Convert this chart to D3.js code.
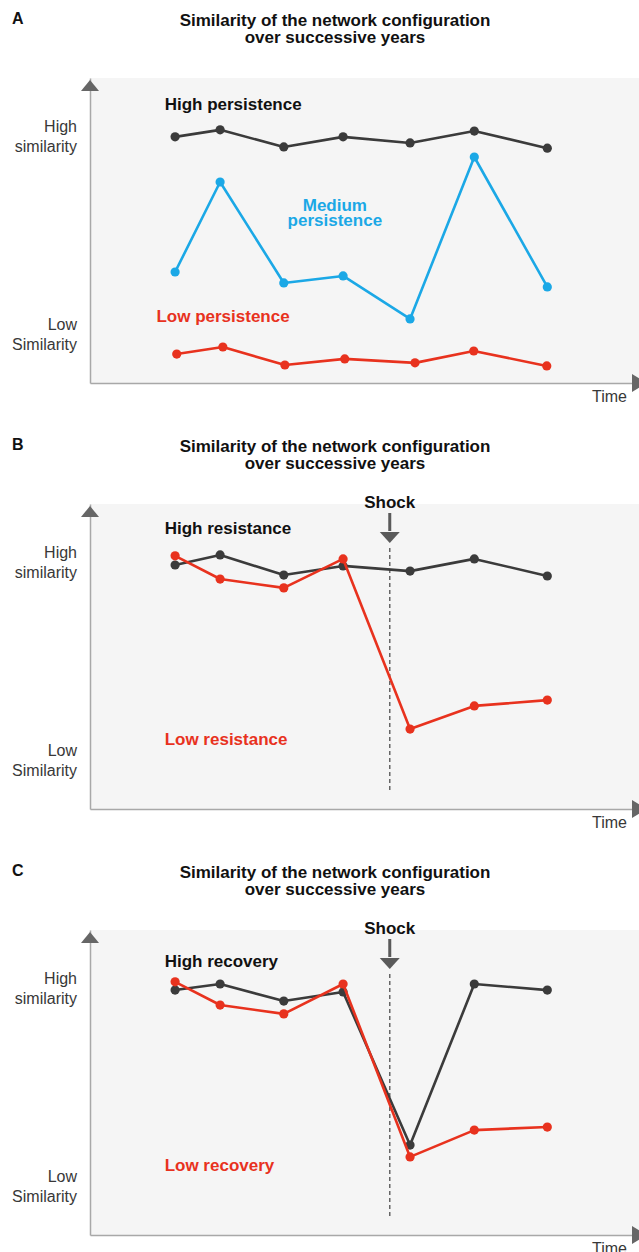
<!DOCTYPE html>
<html><head><meta charset="utf-8">
<script src="https://cdn.jsdelivr.net/npm/d3@7"></script>
<style>
html,body{margin:0;padding:0;background:#fff;}
svg{display:block;font-family:"Liberation Sans",Arial,Helvetica,sans-serif;}
</style></head>
<body><svg id="chart" width="639" height="1252"></svg>
<script>
// ---- data (arbitrary time units 0..10, similarity 0..10) ----
const panelLetters = ["A", "B", "C"];
const titleLines = ["Similarity of the network configuration", "over successive years"];
const yHighLabel = ["High", "similarity"];
const yLowLabel = ["Low", "Similarity"];
const xAxisLabel = "Time";
const times = [1.55, 2.37, 3.53, 4.61, 5.83, 7.0, 8.33];
const timesLowPersistence = [1.58, 2.42, 3.55, 4.64, 5.92, 6.99, 8.32];
const highPersistence = [8.07, 8.30, 7.74, 8.07, 7.87, 8.26, 7.70];
const mediumPersistence = [3.64, 6.59, 3.28, 3.51, 2.10, 7.41, 3.15];
const lowPersistence = [0.95, 1.18, 0.59, 0.79, 0.66, 1.05, 0.56];
const highResistance = [8.00, 8.33, 7.67, 7.97, 7.80, 8.20, 7.64];
const lowResistance = [8.30, 7.54, 7.25, 8.20, 2.62, 3.38, 3.57];
const highRecovery = [8.03, 8.23, 7.67, 7.97, 2.95, 8.23, 8.03];
const lowRecovery = [8.30, 7.54, 7.25, 8.23, 2.56, 3.44, 3.54];
const shockTime = 5.46;
const shockLabel = "Shock";

const C_DARK = "#3b3b3b", C_BLUE = "#1ba8e6", C_RED = "#e8321e";

const panels = [
  { letter: panelLetters[0], axisY: 383, shock: false,
    series: [
      { t: times, v: highPersistence, color: C_DARK },
      { t: times, v: mediumPersistence, color: C_BLUE },
      { t: timesLowPersistence, v: lowPersistence, color: C_RED }
    ],
    labels: [
      { lines: ["High persistence"], t: 1.36, v: 9.15, color: "#111", anchor: "start" },
      { lines: ["Medium", "persistence"], t: 4.46, v: 5.82, color: C_BLUE, anchor: "middle" },
      { lines: ["Low persistence"], t: 1.21, v: 2.2, color: C_RED, anchor: "start" }
    ] },
  { letter: panelLetters[1], axisY: 809, shock: true,
    series: [
      { t: times, v: highResistance, color: C_DARK },
      { t: times, v: lowResistance, color: C_RED }
    ],
    labels: [
      { lines: ["High resistance"], t: 1.36, v: 9.2, color: "#111", anchor: "start" },
      { lines: ["Low resistance"], t: 1.36, v: 2.3, color: C_RED, anchor: "start" }
    ] },
  { letter: panelLetters[2], axisY: 1235, shock: true,
    series: [
      { t: times, v: highRecovery, color: C_DARK },
      { t: times, v: lowRecovery, color: C_RED }
    ],
    labels: [
      { lines: ["High recovery"], t: 1.36, v: 8.98, color: "#111", anchor: "start" },
      { lines: ["Low recovery"], t: 1.36, v: 2.28, color: C_RED, anchor: "start" }
    ] }
];

const svg = d3.select("#chart");
const x = d3.scaleLinear().domain([0, 10]).range([90, 639]);
const PH = 305;

panels.forEach(p => {
  const a = p.axisY;
  const y = d3.scaleLinear().domain([0, 10]).range([a, a - PH]);
  const g = svg.append("g");

  // background
  g.append("rect").attr("x", x(0)).attr("y", y(10)).attr("width", x(10) - x(0)).attr("height", y(0) - y(10)).attr("fill", "#f5f5f5");

  // letter + title
  g.append("text").attr("x", 12).attr("y", a - 365).attr("dy", "0.35em").attr("font-weight", "bold").attr("font-size", 16).attr("fill", "#111").text(p.letter);
  titleLines.forEach((l, i) => {
    g.append("text").attr("x", 335).attr("y", a - 363 + i * 17).attr("dy", "0.35em").attr("text-anchor", "middle")
      .attr("font-weight", "bold").attr("font-size", 17).attr("fill", "#111").text(l);
  });

  // axes
  const yAx = g.append("g").attr("transform", `translate(${x(0)},0)`).call(d3.axisLeft(y).ticks(0).tickSizeOuter(0));
  const xAx = g.append("g").attr("transform", `translate(0,${a})`).call(d3.axisBottom(x).ticks(0).tickSizeOuter(0));
  [yAx, xAx].forEach(ax => ax.select(".domain").attr("stroke", "#a8a8a8").attr("stroke-width", 1.5));
  g.append("path").attr("d", `M${x(0)},${a - 303} L${x(0) - 9},${a - 292} L${x(0) + 9},${a - 292} Z`).attr("fill", "#666");
  g.append("path").attr("d", `M${x(10) + 8},${a} L${x(10) - 7},${a - 9} L${x(10) - 7},${a + 9} Z`).attr("fill", "#666");

  // y labels
  [[yHighLabel, 126 - 383], [yLowLabel, 324 - 383]].forEach(([lines, off]) => {
    lines.forEach((l, i) => {
      g.append("text").attr("x", 77).attr("y", a + off + i * 20.5).attr("dy", "0.35em").attr("text-anchor", "end")
        .attr("font-size", 16).attr("fill", "#383838").text(l);
    });
  });
  g.append("text").attr("x", 627).attr("y", a + 13).attr("dy", "0.35em").attr("text-anchor", "end").attr("font-size", 16).attr("fill", "#383838").text(xAxisLabel);

  // shock
  if (p.shock) {
    const sx = x(shockTime);
    g.append("text").attr("x", sx).attr("y", a - 307).attr("dy", "0.35em").attr("text-anchor", "middle").attr("font-weight", "bold").attr("font-size", 17).attr("fill", "#111").text(shockLabel);
    g.append("line").attr("x1", sx).attr("x2", sx).attr("y1", a - 296).attr("y2", a - 278).attr("stroke", "#5a5a5a").attr("stroke-width", 3);
    g.append("path").attr("d", `M${sx},${a - 266} L${sx - 10},${a - 277} L${sx + 10},${a - 277} Z`).attr("fill", "#5a5a5a");
    g.append("line").attr("x1", sx).attr("x2", sx).attr("y1", a - 261).attr("y2", a - 16).attr("stroke", "#666").attr("stroke-width", 1.5).attr("stroke-dasharray", "4,3");
  }

  // series
  const line = d3.line().x(d => x(d[0])).y(d => y(d[1]));
  p.series.forEach(s => {
    const pts = s.v.map((v, i) => [s.t[i], v]);
    g.append("path").datum(pts).attr("d", line).attr("fill", "none").attr("stroke", s.color).attr("stroke-width", 2.6).attr("stroke-linejoin", "round");
    g.selectAll(null).data(pts).enter().append("circle").attr("cx", d => x(d[0])).attr("cy", d => y(d[1])).attr("r", 4.6).attr("fill", s.color);
  });

  // series labels
  p.labels.forEach(lb => {
    lb.lines.forEach((l, i) => {
      g.append("text").attr("x", x(lb.t)).attr("y", y(lb.v) + i * 15).attr("dy", "0.35em").attr("text-anchor", lb.anchor)
        .attr("font-weight", "bold").attr("font-size", 17).attr("fill", lb.color).text(l);
    });
  });
});
</script></body></html>
